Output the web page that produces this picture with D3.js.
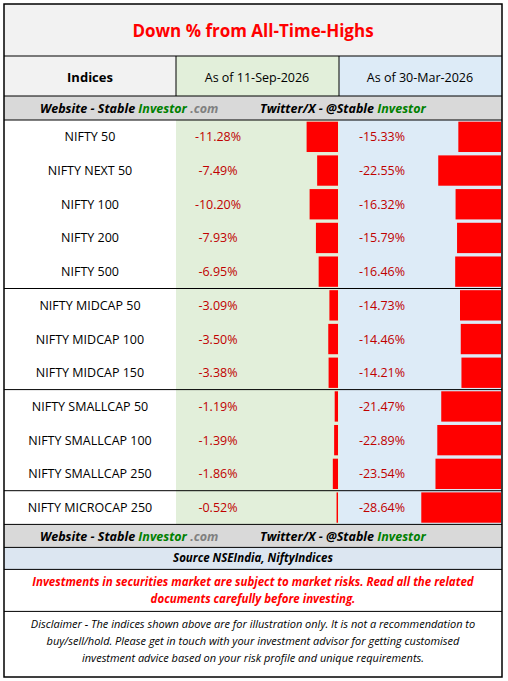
<!DOCTYPE html><html><head><meta charset="utf-8"><script src="https://cdn.jsdelivr.net/npm/d3@7"></script>
<style>body{margin:0;background:#fff}text{font-family:"Open Sans","Noto Sans",sans-serif}</style></head><body><svg id="c" width="508" height="681"></svg>
<script>
const indices=["NIFTY 50","NIFTY NEXT 50","NIFTY 100","NIFTY 200","NIFTY 500","NIFTY MIDCAP 50","NIFTY MIDCAP 100","NIFTY MIDCAP 150","NIFTY SMALLCAP 50","NIFTY SMALLCAP 100","NIFTY SMALLCAP 250","NIFTY MICROCAP 250"];
const sep2026=[-11.28,-7.49,-10.20,-7.93,-6.95,-3.09,-3.50,-3.38,-1.19,-1.39,-1.86,-0.52];
const mar2026=[-15.33,-22.55,-16.32,-15.79,-16.46,-14.73,-14.46,-14.21,-21.47,-22.89,-23.54,-28.64];
const headers=["Indices","As of 11-Sep-2026","As of 30-Mar-2026"];
const svg=d3.select("#c");
const L=4,R=502,c1=176,c2=339;
const rowTop=120,rowH=33.7;
const y=d3.scaleBand().domain(indices).range([rowTop,rowTop+rowH*12]).paddingInner(0.1).paddingOuter(0.05);
const w=d3.scaleLinear().domain([0,30]).range([0,83.5]);
function rect(x,y0,wd,h,f){svg.append("rect").attr("x",x).attr("y",y0).attr("width",wd).attr("height",h).attr("fill",f);}
function txt(x,y0,s,o={}){return svg.append("text").attr("x",x).attr("y",y0).attr("text-anchor",o.a||"middle").attr("font-size",o.s||13).attr("font-weight",o.b?"bold":"normal").attr("font-style",o.i?"italic":"normal").attr("fill",o.f||"#000").text(s);}
const bodyBot=rowTop+rowH*12;
rect(L,4,R-L,52,"#f2f2f2");
rect(L,56,c1-L,40,"#f2f2f2");rect(c1,56,c2-c1,40,"#e2efda");rect(c2,56,R-c2,40,"#ddebf7");
rect(L,96,R-L,24,"#d9d9d9");
rect(c1,rowTop,c2-c1,bodyBot-rowTop,"#e2efda");rect(c2,rowTop,R-c2,bodyBot-rowTop,"#ddebf7");
rect(L,bodyBot,R-L,23,"#d9d9d9");
rect(L,bodyBot+23,R-L,22,"#dce6f1");
txt(253,37,"Down % from All-Time-Highs",{s:17,b:1,f:"#ff0000"});
txt(90,82,headers[0],{s:13,b:1});txt(257,82,headers[1],{s:12.5});txt(420,82,headers[2],{s:12.5});
function web(yy){
 const t=svg.append("text").attr("x",40).attr("y",yy).attr("font-size",12.5).attr("font-weight","bold").attr("font-style","italic");
 t.append("tspan").text("Website - Stable");t.append("tspan").attr("fill","#008000").text(" Investor");t.append("tspan").attr("fill","#808080").text(" .com");
 const t2=svg.append("text").attr("x",260).attr("y",yy).attr("font-size",12.5).attr("font-weight","bold").attr("font-style","italic");
 t2.append("tspan").text("Twitter/X - @Stable");t2.append("tspan").attr("fill","#008000").text(" Investor");
}
web(113);web(bodyBot+17);
indices.forEach((d,i)=>{
 const cy=rowTop+rowH*i+rowH/2+4.5;
 txt(90,cy,d,{s:12.5});
 txt(218,cy,sep2026[i].toFixed(2)+"%",{s:12.5,f:"#c00000"});
 txt(382,cy,mar2026[i].toFixed(2)+"%",{s:12.5,f:"#c00000"});
});
svg.selectAll(".b1").data(indices).join("rect").attr("x",(d,i)=>c2-1-w(-sep2026[i])).attr("y",d=>y(d)).attr("width",(d,i)=>w(-sep2026[i])).attr("height",y.bandwidth()).attr("fill","#ff0000");
svg.selectAll(".b2").data(indices).join("rect").attr("x",(d,i)=>R-1-w(-mar2026[i])).attr("y",d=>y(d)).attr("width",(d,i)=>w(-mar2026[i])).attr("height",y.bandwidth()).attr("fill","#ff0000");
txt(253,bodyBot+38,"Source NSEIndia, NiftyIndices",{s:11.5,b:1,i:1});
txt(253,bodyBot+62,"Investments in securities market are subject to market risks. Read all the related",{s:11.5,b:1,i:1,f:"#ff0000"});
txt(253,bodyBot+79,"documents carefully before investing.",{s:11.5,b:1,i:1,f:"#ff0000"});
["Disclaimer - The indices shown above are for illustration only. It is not a recommendation to","buy/sell/hold. Please get in touch with your investment advisor for getting customised","investment advice based on your risk profile and unique requirements."].forEach((s,i)=>txt(253,bodyBot+104+i*17,s,{s:11,i:1}));
function hl(yy,sw){svg.append("line").attr("x1",L).attr("x2",R).attr("y1",yy).attr("y2",yy).attr("stroke","#000").attr("stroke-width",sw||1);}
function vl(x,a,b){svg.append("line").attr("x1",x).attr("x2",x).attr("y1",a).attr("y2",b).attr("stroke","#000");}
hl(56);hl(96);hl(120);hl(rowTop+rowH*5);hl(rowTop+rowH*8);hl(rowTop+rowH*11);hl(bodyBot);hl(bodyBot+23);hl(bodyBot+45);hl(bodyBot+87);
vl(c1,56,96);vl(c2,56,96);
svg.append("rect").attr("x",L).attr("y",4).attr("width",R-L).attr("height",673).attr("fill","none").attr("stroke","#000").attr("stroke-width",1.5);
</script></body></html>
